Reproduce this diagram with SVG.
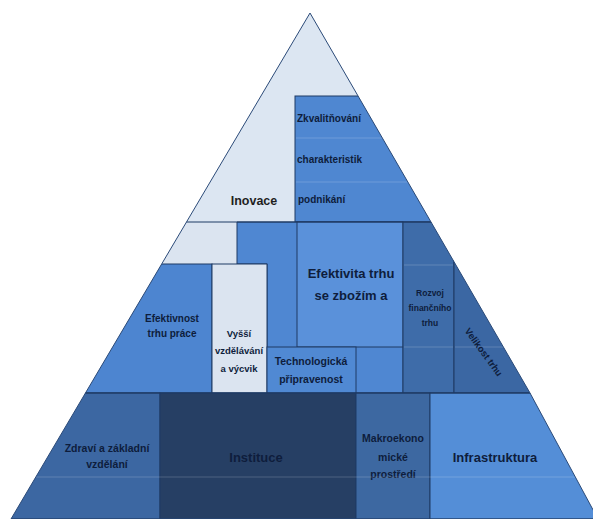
<svg xmlns="http://www.w3.org/2000/svg" width="593" height="519" viewBox="0 0 593 519">
<style>
.t{font-family:"Liberation Sans",Arial,sans-serif;font-weight:bold;fill:#0e1d3c;text-anchor:middle}
.l{text-anchor:start}
.b{stroke:#1e3a64;stroke-width:1}
.g{stroke:#ffffff;stroke-opacity:0.18;stroke-width:1;fill:none}
</style>
<defs>
<clipPath id="tri"><polygon points="310,13 431,222 530,393 598,519 11,519"/></clipPath>
</defs>
<rect width="593" height="519" fill="#ffffff"/>
<g clip-path="url(#tri)">
<g id="inovace">
<rect x="0" y="0" width="593" height="222" fill="#dce6f2"/>
<text class="t" x="254" y="205" font-size="12.5" style="fill:#1f1f1f">Inovace</text>
</g>
<g id="zkvalitnovani">
<rect x="295" y="96" width="300" height="126" fill="#4f87d1" class="b"/>
<line class="g" x1="296" y1="138" x2="593" y2="138"/>
<line class="g" x1="296" y1="182" x2="593" y2="182"/>
<text class="t l" x="297" y="122" font-size="10">Zkvalitňování</text>
<text class="t l" x="297" y="163" font-size="10">charakteristik</text>
<text class="t l" x="298" y="203" font-size="10">podnikání</text>
</g>
<g id="stredni-podklad">
<rect x="0" y="222" width="593" height="171" fill="#dbe4f0"/>
<polygon points="237,222 403,222 403,393 267,393 267,264 237,264" fill="#4f87d2" class="b"/>
</g>
<g id="efektivnost-trhu-prace">
<rect x="0" y="264" width="212" height="129" fill="#4d85d0" class="b"/>
<text class="t" x="172" y="322" font-size="10">Efektivnost</text>
<text class="t" x="172" y="337" font-size="10">trhu práce</text>
</g>
<g id="vyssi-vzdelavani">
<rect x="212" y="264" width="55" height="129" fill="#dbe4f0" class="b"/>
<text class="t" x="239" y="337" font-size="9.5">Vyšší</text>
<text class="t" x="239" y="354" font-size="9.5">vzdělávání</text>
<text class="t" x="239" y="372" font-size="9.5">a výcvik</text>
</g>
<g id="efektivita-trhu-se-zbozim">
<rect x="297" y="222" width="106" height="125" fill="#5a91da" class="b"/>
<text class="t" x="351" y="278" font-size="13">Efektivita trhu</text>
<text class="t" x="351" y="300" font-size="13">se zbožím a</text>
</g>
<g id="technologicka-pripravenost">
<rect x="267" y="347" width="89" height="46" fill="#5089d3" class="b"/>
<text class="t" x="311" y="365" font-size="10.5">Technologická</text>
<text class="t" x="311" y="383" font-size="10.5">připravenost</text>
</g>
<g id="rozvoj-financniho-trhu">
<rect x="403" y="222" width="51" height="171" fill="#3e6ca9" class="b"/>
<line class="g" x1="404" y1="265" x2="453" y2="265"/>
<line class="g" x1="404" y1="347" x2="453" y2="347"/>
<text class="t" x="430" y="296" font-size="8.5">Rozvoj</text>
<text class="t" x="430" y="311" font-size="8.5">finančního</text>
<text class="t" x="430" y="326" font-size="8.5">trhu</text>
</g>
<g id="velikost-trhu">
<rect x="454" y="222" width="150" height="171" fill="#3b67a3" class="b"/>
<line class="g" x1="455" y1="265" x2="600" y2="265"/>
<line class="g" x1="455" y1="347" x2="600" y2="347"/>
<text class="t" x="0" y="0" font-size="9.5" transform="translate(481,354) rotate(54)">Velikost trhu</text>
</g>
<g id="zdravi">
<rect x="0" y="393" width="160" height="126" fill="#3c67a2" class="b"/>
<text class="t" x="107" y="452" font-size="10.5">Zdraví a základní</text>
<text class="t" x="107" y="468" font-size="10.5">vzdělání</text>
</g>
<g id="instituce">
<rect x="160" y="393" width="196" height="126" fill="#263f64" class="b"/>
<text class="t" x="256" y="462" font-size="13">Instituce</text>
</g>
<g id="makroekonomicke-prostredi">
<rect x="356" y="393" width="74" height="126" fill="#3d68a1" class="b"/>
<text class="t" x="393" y="442" font-size="10.5">Makroekono</text>
<text class="t" x="393" y="461" font-size="10.5">mické</text>
<text class="t" x="393" y="478" font-size="10.5">prostředí</text>
</g>
<g id="infrastruktura">
<rect x="430" y="393" width="175" height="126" fill="#548ed7" class="b"/>
<text class="t" x="495" y="462" font-size="13">Infrastruktura</text>
</g>
<line class="g" x1="0" y1="477" x2="593" y2="477"/>
<line x1="0" y1="222" x2="593" y2="222" stroke="#1e3a64" stroke-width="1.2"/>
<line x1="0" y1="393" x2="593" y2="393" stroke="#1e3a64" stroke-width="1.2"/>
</g>
<polygon points="310,13 431,222 530,393 598,519 11,519" fill="none" stroke="#2b4a78" stroke-width="1"/>
<g id="connectors"/>
</svg>
